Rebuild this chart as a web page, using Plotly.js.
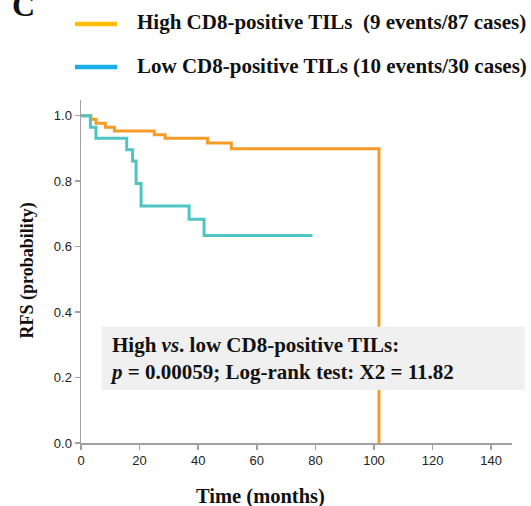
<!DOCTYPE html>
<html>
<head>
<meta charset="utf-8">
<script src="https://cdn.plot.ly/plotly-3.0.1.min.js"></script>
<style>html,body{margin:0;padding:0;background:#fff;}#chart{width:531px;height:506px;}</style>
</head>
<body>
<div id="chart"></div>
<script>
// Kaplan-Meier step data
const highTime = [0, 3.4, 5.1, 8.3, 11.4, 25.0, 28.7, 43.2, 51.3, 101.7];
const highSurv = [1.0, 0.989, 0.977, 0.965, 0.953, 0.942, 0.931, 0.917, 0.899, 0.0];
const lowTime  = [0, 3.2, 5.1, 15.6, 17.6, 18.8, 20.5, 36.9, 42.0, 79.0];
const lowSurv  = [1.0, 0.965, 0.931, 0.896, 0.862, 0.793, 0.724, 0.684, 0.634, 0.634];

const legendLabels = [
  "High CD8-positive TILs  (9 events/87 cases)",
  "Low CD8-positive TILs (10 events/30 cases)"
];
const statLines = [
  "High <i>vs</i>. low CD8-positive TILs:",
  "<i>p</i> = 0.00059; Log-rank test: X2 = 11.82"
];
const xTicks = [0, 20, 40, 60, 80, 100, 120, 140];
const yTicks = [0.0, 0.2, 0.4, 0.6, 0.8, 1.0];

const serif = "Liberation Serif, Times New Roman, serif";
const sans = "Liberation Sans, Arial, sans-serif";

const traces = [
  {x: highTime, y: highSurv, type: "scatter", mode: "lines", line: {shape: "hv", color: "#F59B27", width: 3}, showlegend: false, hoverinfo: "skip"},
  {x: lowTime, y: lowSurv, type: "scatter", mode: "lines", line: {shape: "hv", color: "#4FC4C4", width: 3}, showlegend: false, hoverinfo: "skip"}
];

const layout = {
  width: 531, height: 506,
  margin: {l: 81, r: 19, t: 100, b: 63},
  paper_bgcolor: "#fff", plot_bgcolor: "#fff",
  showlegend: false,
  xaxis: {
    range: [0, 147.1], tickvals: xTicks, ticktext: xTicks.map(String),
    showgrid: false, zeroline: false, showline: true, linecolor: "#A0A0A0", linewidth: 1.5,
    ticks: "outside", ticklen: 5, tickcolor: "#A0A0A0", tickwidth: 1.5,
    tickfont: {family: sans, size: 13, color: "#222"}, fixedrange: true
  },
  yaxis: {
    range: [0, 1.048], tickvals: yTicks, ticktext: yTicks.map(v => v.toFixed(1)),
    showgrid: false, zeroline: false, showline: true, linecolor: "#A0A0A0", linewidth: 1.5,
    ticks: "outside", ticklen: 5, tickcolor: "#A0A0A0", tickwidth: 1.5,
    tickfont: {family: sans, size: 13, color: "#222"}, fixedrange: true
  },
  shapes: [
    {type: "rect", xref: "paper", yref: "paper", x0: 0.048, x1: 1.030, y0: 0.1545, y1: 0.339,
     fillcolor: "#F0F0F0", line: {width: 0}, layer: "above"},
    {type: "line", xref: "paper", yref: "paper", x0: -0.0139, x1: 0.0835, y0: 1.2216, y1: 1.2216,
     line: {color: "#FFBF00", width: 4.5}},
    {type: "line", xref: "paper", yref: "paper", x0: -0.0139, x1: 0.0835, y0: 1.0962, y1: 1.0962,
     line: {color: "#19AEE8", width: 4.5}}
  ],
  annotations: [
    {text: "<b>" + legendLabels[0] + "</b>", xref: "paper", yref: "paper", x: 0.1253, y: 1.2274,
     xanchor: "left", yanchor: "middle", showarrow: false, font: {family: serif, size: 21, color: "#111"}},
    {text: "<b>" + legendLabels[1] + "</b>", xref: "paper", yref: "paper", x: 0.1253, y: 1.0977,
     xanchor: "left", yanchor: "middle", showarrow: false, font: {family: serif, size: 21, color: "#111"}},
    {text: "<b>" + statLines.join("<br>") + "</b>", xref: "paper", yref: "paper", x: 0.0626, y: 0.2449,
     xanchor: "left", yanchor: "middle", align: "left", showarrow: false,
     font: {family: serif, size: 21, color: "#111"}},
    {text: "<b>Time (months)</b>", xref: "paper", yref: "paper", x: 0.4176, y: -0.157,
     xanchor: "center", yanchor: "middle", showarrow: false, font: {family: serif, size: 20.5, color: "#111"}},
    {text: "<b>RFS (probability)</b>", xref: "paper", yref: "paper", x: -0.1253, y: 0.503, textangle: -90,
     xanchor: "center", yanchor: "middle", showarrow: false, font: {family: serif, size: 18, color: "#111"}},
    {text: "<b>C</b>", xref: "paper", yref: "paper", x: -0.1323, y: 1.2784,
     xanchor: "center", yanchor: "middle", showarrow: false, font: {family: serif, size: 32, color: "#111"}}
  ]
};

Plotly.newPlot("chart", traces, layout, {staticPlot: true, displayModeBar: false});
</script>
</body>
</html>
